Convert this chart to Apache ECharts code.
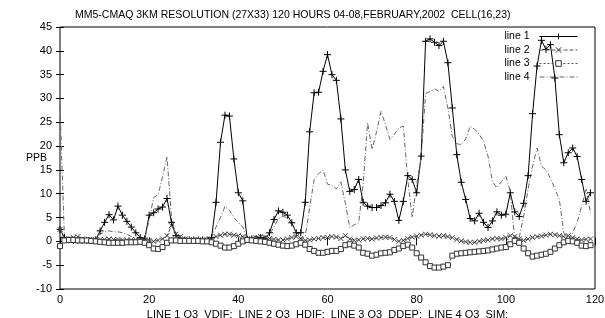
<!DOCTYPE html>
<html>
<head>
<meta charset="utf-8">
<script src="https://cdn.jsdelivr.net/npm/echarts@6/dist/echarts.min.js"></script>
<style>
  html, body { margin: 0; padding: 0; background: #fff; }
  #chart { width: 605px; height: 318px; }
</style>
</head>
<body>
<div id="chart"></div>
<script>
// hourly values, hour 0..119
const line1 = [
  2.5, 0.8, 0.3, 0.2, 0.2, 0.2, 0.2, 0.2, 0.3, 2.2,
  4.0, 5.6, 4.5, 7.4, 5.5, 4.2, 3.0, 1.8, 0.8, 0.5,
  5.5, 6.0, 6.8, 7.2, 9.0, 4.0, 1.2, 0.5, 0.3, 0.3,
  0.3, 0.3, 0.3, 0.3, 0.8, 8.2, 20.8, 26.5, 26.3, 17.3,
  10.2, 8.5, 0.4, 0.5, 0.6, 0.8, 0.5, 1.8, 4.6, 6.4,
  6.1, 5.5, 3.9, 1.8, 1.8, 8.2, 23.0, 31.2, 31.3, 35.7,
  39.2, 35.0, 33.8, 25.7, 15.0, 10.5, 10.9, 13.0, 8.2, 7.4,
  7.1, 7.1, 7.5, 8.1, 9.9, 8.4, 4.4, 8.4, 13.8, 13.0,
  10.2, 17.9, 42.0, 42.5, 41.8, 41.1, 42.0, 37.5, 28.0, 18.2,
  12.4, 8.8, 4.8, 4.3, 5.9, 4.0, 2.9, 4.3, 6.2, 5.5,
  5.7, 10.2, 6.2, 5.2, 8.0, 13.8, 26.8, 36.8, 42.2, 40.3,
  41.3, 34.3, 22.4, 16.5, 18.6, 19.6, 17.8, 13.0, 8.4, 10.2
];
const line2 = [
  2.5, 0.5, 0.5, 0.8, 1.0, 0.5, 0.3, 0.3, 0.3, 0.4,
  0.4, 0.5, 0.4, 0.4, 0.3, 0.3, 0.3, 0.3, 0.4, 0.3,
  0.2, 0.0, 0.2, 0.5, 1.2, 3.3, 1.5, 1.0, 0.5, 0.3,
  0.3, 0.3, 0.3, 0.3, 0.5, 1.0, 1.3, 1.5, 1.5, 1.3,
  1.2, 1.0, 0.5, 0.5, 0.7, 1.0, 0.8, 0.6, 0.4, 0.3,
  0.3, 0.5, 0.8, 1.0, 0.6, 0.2, 0.3, 0.5, 0.6, 0.8,
  0.8, 1.0, 0.9, 0.6, 1.2, 0.5, 0.2, 0.3, 0.5, 0.6,
  0.5, 0.7, 0.8, 0.9, 0.8, 0.4, 0.0, 0.2, 0.6, 0.9,
  1.1, 1.3, 1.5, 1.4, 1.2, 1.1, 1.2, 1.0, 0.8, 0.4,
  0.1, -0.1, -0.2, -0.2, 0.0, 0.2, 0.3, 0.5, 0.6, 0.5,
  0.8, 1.2, 1.0, 0.5, 0.2, 0.5, 0.8, 1.0, 1.1, 1.3,
  1.5, 1.4, 1.2, 1.0, 1.2, 0.8, 0.5, 0.3, 0.4, 0.5
];
const line3 = [
  -1.0, 0.2, 0.3, 0.3, 0.2, 0.2, 0.2, 0.1, 0.0, -0.1,
  -0.2, -0.3, -0.3, -0.3, -0.3, -0.2, -0.2, -0.2, -0.1, -0.3,
  -0.8, -1.5, -1.6, -1.2, -0.3, 0.2, 0.2, 0.1, 0.1, 0.1,
  0.1, 0.1, 0.0, 0.0, -0.2, -0.5, -0.9, -1.3, -1.3, -1.0,
  -0.5, 0.0, 0.3, 0.2, 0.1, 0.0, -0.1, -0.3, -0.5, -0.7,
  -0.9, -1.0, -0.9, -0.6, -0.3, -0.7, -1.6, -2.0, -2.4, -2.4,
  -2.2, -2.0, -2.0, -1.6, -0.8, -0.6, -0.9, -1.3, -2.4, -2.6,
  -3.0, -2.8, -2.5, -2.4, -2.3, -1.8, -1.5, -1.0, -0.7, -1.3,
  -2.5, -3.4, -4.4, -5.2, -5.5, -5.5, -5.3, -5.0, -3.0, -2.6,
  -2.5, -2.4, -2.3, -2.2, -2.1, -2.0, -1.9, -1.7, -1.5, -1.3,
  -1.2, -0.6, 0.1, -0.3, -1.5, -2.5, -3.2, -3.0, -2.8, -2.6,
  -2.2, -1.5, -0.8, -0.2, 0.1, 0.0, -0.3, -0.9, -1.0, -0.8
];
const line4 = [
  28.5, 0.5, 0.3, 0.3, 0.3, 0.3, 0.3, 0.3, 0.4, 1.5,
  2.0, 2.2, 2.0, 2.0, 1.8, 1.5, 1.0, 0.6, 0.5, 0.5,
  4.5, 9.2, 9.8, 13.5, 17.8, 5.0, 1.5, 0.5, 0.3, 0.3,
  0.3, 0.3, 0.3, 0.4, 1.0, 3.0, 5.0, 7.3, 6.5, 5.0,
  4.0, 3.0, 0.5, 0.8, 1.0, 0.8, 1.0, 1.5, 3.0, 4.8,
  5.2, 5.0, 3.5, 1.8, 0.5, 1.0, 7.0, 13.0, 14.2, 15.0,
  12.0, 11.8, 11.0, 12.5, 8.0, 2.9, 3.5, 3.9, 12.0, 24.9,
  19.3, 23.0, 27.3, 24.5, 21.4, 22.5, 23.8, 24.2, 13.0, 5.0,
  12.0, 17.5, 31.0, 31.5, 32.0, 31.5, 32.5, 28.0, 22.0, 20.5,
  20.3, 21.5, 24.2, 23.5, 22.5, 21.0, 17.9, 12.5, 11.3, 12.5,
  13.7, 10.5, 0.3, 0.8, 5.3, 11.0, 15.8, 19.6, 15.8, 15.0,
  13.3, 11.0, 8.8, 1.8, 0.4, 1.8, 4.0, 7.4, 10.9, 6.0
];
const hours = line1.map((_, i) => i);
const xTicks = [0, 20, 40, 60, 80, 100, 120];
const yTicks = [-10, -5, 0, 5, 10, 15, 20, 25, 30, 35, 40, 45];

const FONT = 'Liberation Sans, Arial, sans-serif';
const plus = 'path://M0,5L10,5M5,0L5,10';
const cross = 'path://M0,0L10,10M10,0L0,10';

const pairs = arr => hours.map(h => [h, arr[h]]);

const chart = echarts.init(document.getElementById('chart'));

const axisCommon = {
  type: 'value',
  axisLine: { show: false },
  splitLine: { show: false },
  axisTick: { show: true, inside: true, length: 4, lineStyle: { color: '#000', width: 1 } }
};

chart.setOption({
  animation: false,
  backgroundColor: '#fff',
  textStyle: { fontFamily: FONT },
  title: {
    text: 'MM5-CMAQ 3KM RESOLUTION (27X33) 120 HOURS 04-08,FEBRUARY,2002  CELL(16,23)',
    left: 70,
    top: 5,
    textStyle: { fontSize: 10.5, fontWeight: 'normal', color: '#000', fontFamily: FONT }
  },
  legend: {
    orient: 'vertical',
    right: 27,
    top: 31,
    align: 'right',
    itemWidth: 38,
    itemHeight: 7,
    itemGap: 2.5,
    padding: 0,
    lineStyle: { width: 1 },
    itemStyle: { borderWidth: 1 },
    textStyle: { fontSize: 10.5, color: '#000', fontFamily: FONT, padding: [0, 5, 0, 0] },
    data: ['line 1', 'line 2', 'line 3', 'line 4']
  },
  grid: {
    left: 60, right: 10, top: 27, bottom: 29,
    outerBoundsMode: 'none',
    containLabel: false,
    show: true, borderColor: '#000', borderWidth: 1, backgroundColor: 'transparent'
  },
  graphic: [{
    type: 'text',
    left: 26,
    top: 153,
    style: { text: 'PPB', fontSize: 10.5, fill: '#000', fontFamily: FONT }
  }],
  xAxis: [
    Object.assign({}, axisCommon, {
      min: xTicks[0], max: xTicks[xTicks.length - 1], interval: 20,
      position: 'bottom',
      axisLabel: { color: '#000', fontSize: 11, margin: 5, fontFamily: FONT },
      name: 'LINE 1 O3  VDIF:  LINE 2 O3  HDIF:  LINE 3 O3  DDEP:  LINE 4 O3  SIM:',
      nameLocation: 'middle',
      nameGap: 16,
      nameTextStyle: { color: '#000', fontSize: 11, fontFamily: FONT }
    }),
    Object.assign({}, axisCommon, {
      min: xTicks[0], max: xTicks[xTicks.length - 1], interval: 20,
      position: 'top',
      axisLabel: { show: false }
    })
  ],
  yAxis: [
    Object.assign({}, axisCommon, {
      min: yTicks[0], max: yTicks[yTicks.length - 1], interval: 5,
      position: 'left',
      axisLabel: { color: '#000', fontSize: 11, margin: 8, fontFamily: FONT }
    }),
    Object.assign({}, axisCommon, {
      min: yTicks[0], max: yTicks[yTicks.length - 1], interval: 5,
      position: 'right',
      axisLabel: { show: false }
    })
  ],
  series: [
    {
      name: 'line 1', type: 'line', data: pairs(line1),
      symbol: plus, symbolSize: 7,
      lineStyle: { color: '#000', width: 1 },
      itemStyle: { color: 'transparent', borderColor: '#000', borderWidth: 1 },
      emphasis: { disabled: true }
    },
    {
      name: 'line 2', type: 'line', data: pairs(line2),
      symbol: cross, symbolSize: 5,
      lineStyle: { color: '#555', width: 1, type: [4, 2] },
      itemStyle: { color: 'transparent', borderColor: '#444', borderWidth: 1 },
      emphasis: { disabled: true }
    },
    {
      name: 'line 3', type: 'line', data: pairs(line3),
      symbol: 'rect', symbolSize: 5,
      lineStyle: { color: '#555', width: 1, type: [2, 2] },
      itemStyle: { color: '#fff', borderColor: '#333', borderWidth: 1 },
      emphasis: { disabled: true }
    },
    {
      name: 'line 4', type: 'line', data: pairs(line4),
      symbol: 'circle', showSymbol: false,
      lineStyle: { color: '#666', width: 1, type: [5, 2, 1, 2] },
      itemStyle: { color: 'transparent', borderColor: 'transparent' },
      emphasis: { disabled: true }
    }
  ]
});
</script>
</body>
</html>
